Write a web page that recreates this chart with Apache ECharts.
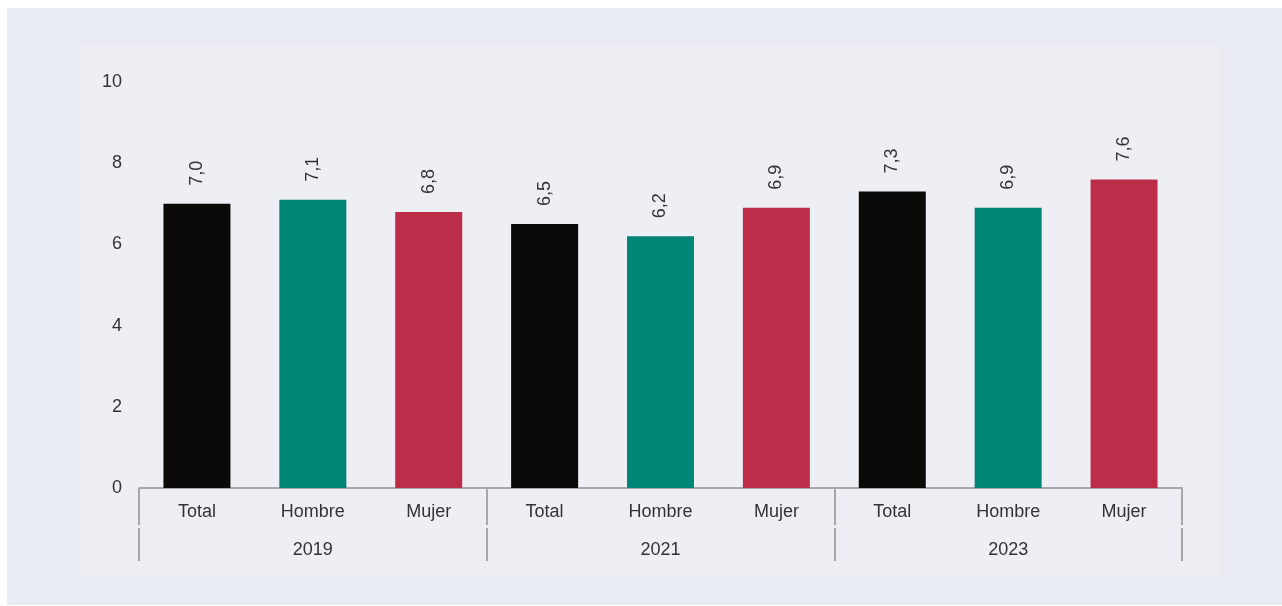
<!DOCTYPE html>
<html>
<head>
<meta charset="utf-8">
<script src="https://cdn.jsdelivr.net/npm/echarts@6/dist/echarts.min.js"></script>
<style>
html,body{margin:0;padding:0;background:#ffffff;}
#chart{width:1282px;height:606px;}
</style>
</head>
<body>
<div id="chart"></div>
<script>
const categories = ['Total','Hombre','Mujer','Total','Hombre','Mujer','Total','Hombre','Mujer'];
const years = ['2019','2021','2023'];
const values = [7.0, 7.1, 6.8, 6.5, 6.2, 6.9, 7.3, 6.9, 7.6];
const yTicks = [0, 2, 4, 6, 8, 10];

const palette = ['#0b0a08', '#008676', '#bc2d4a'];
const font = '"Liberation Sans", Arial, Helvetica, sans-serif';
const textColor = '#333333';
const lineColor = '#a8a8a8';

const chart = echarts.init(document.getElementById('chart'), null, {renderer: 'canvas'});
chart.setOption({
  animation: false,
  backgroundColor: '#ffffff',
  graphic: [
    {type: 'rect', left: 7, top: 8, z: -10, silent: true,
     shape: {width: 1275, height: 597}, style: {fill: '#e8ebf4'}},
    {type: 'rect', left: 81, top: 45, z: -9, silent: true,
     shape: {width: 1138, height: 531}, style: {fill: '#eeeff5'}}
  ],
  grid: {left: 139, right: 100, top: 82, bottom: 118, containLabel: false},
  yAxis: {
    type: 'value', min: yTicks[0], max: yTicks[yTicks.length - 1], interval: 2,
    axisLine: {show: false}, axisTick: {show: false}, splitLine: {show: false},
    axisLabel: {fontFamily: font, fontSize: 18, color: textColor, margin: 17}
  },
  xAxis: [
    {
      type: 'category', data: categories, position: 'bottom',
      axisLine: {show: true, lineStyle: {color: lineColor, width: 2}},
      axisTick: {show: true, interval: (idx) => idx % 3 === 0, length: 37, lineStyle: {color: lineColor, width: 2}},
      axisLabel: {interval: 0, fontFamily: font, fontSize: 18, color: textColor, margin: 15}
    },
    {
      type: 'category', data: years, position: 'bottom', offset: 40,
      axisLine: {show: false},
      axisTick: {show: true, length: 33, lineStyle: {color: lineColor, width: 2}},
      axisLabel: {interval: 0, fontFamily: font, fontSize: 18, color: textColor, margin: 13}
    }
  ],
  series: [{
    type: 'bar',
    xAxisIndex: 0,
    barWidth: 67,
    data: values.map((v, i) => ({value: v, itemStyle: {color: palette[i % 3]}})),
    label: {
      show: true, position: 'top', rotate: 90, align: 'left', verticalAlign: 'middle',
      distance: 18, fontFamily: font, fontSize: 18, color: textColor,
      formatter: p => p.value.toFixed(1).replace('.', ',')
    }
  }]
});
</script>
</body>
</html>
